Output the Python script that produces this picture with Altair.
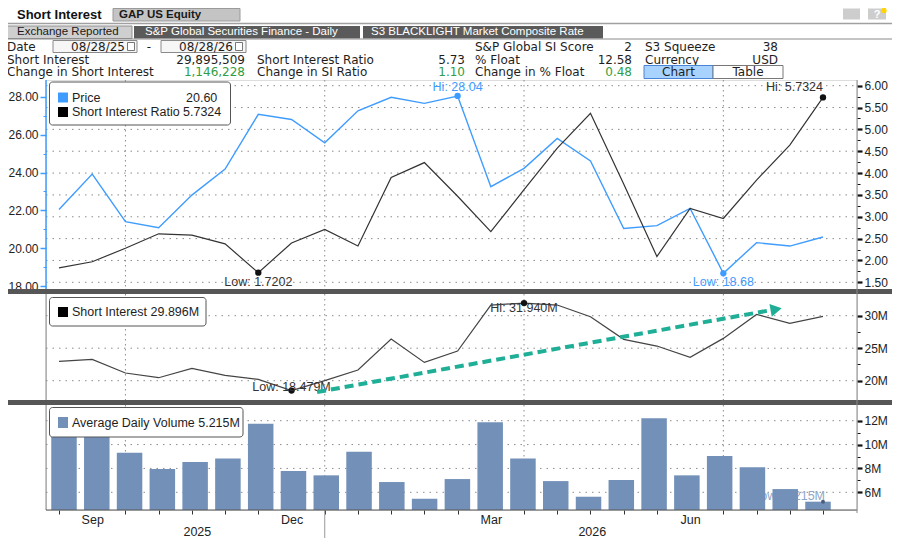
import altair as alt
import pandas as pd

# ---------------- data ----------------
periods = ["2025-08-29", "2025-09-15", "2025-09-30", "2025-10-15", "2025-10-31", "2025-11-14",
           "2025-11-28", "2025-12-15", "2025-12-31", "2026-01-15", "2026-01-30", "2026-02-13",
           "2026-02-27", "2026-03-13", "2026-03-31", "2026-04-15", "2026-04-30", "2026-05-15",
           "2026-05-29", "2026-06-15", "2026-06-30", "2026-07-15", "2026-07-31", "2026-08-14"]
price = [22.05, 23.92, 21.41, 21.09, 22.81, 24.18, 27.07, 26.80, 25.57, 27.26, 27.97, 27.65,
         28.04, 23.25, 24.22, 25.80, 24.61, 21.05, 21.20, 22.11, 18.68, 20.30, 20.12, 20.60]
si_ratio = [1.83, 1.97, 2.28, 2.61, 2.58, 2.38, 1.7202, 2.40, 2.71, 2.33, 3.90, 4.24,
            3.47, 2.66, 3.62, 4.57, 5.37, 3.75, 2.09, 3.19, 2.96, 3.84, 4.64, 5.7324]
short_interest = [22.97, 23.28, 21.18, 20.46, 21.90, 20.82, 20.21, 18.479, 20.00, 21.64, 26.41, 22.82,
                  24.56, 31.64, 31.940, 31.64, 29.85, 26.36, 25.33, 23.59, 26.51, 30.20, 28.82, 29.896]
avg_volume = [12.6, 11.5, 9.32, 7.95, 8.54, 8.84, 11.75, 7.78, 7.42, 9.40, 6.86, 5.46,
              7.11, 11.86, 8.84, 6.94, 5.63, 7.03, 12.20, 7.42, 9.04, 8.09, 6.27, 5.215]
volume_axis_floor = 4.52   # bottom edge of the volume panel, in millions

month_ticks = [1, 7, 13, 19]
month_labels = ["Sep", "Dec", "Mar", "Jun"]
year_ticks = [4.15, 16.04]
year_labels = ["2025", "2026"]
quarter_grid = [2, 8, 14, 20]
year_boundary = [8]
price_ticks = [18, 20, 22, 24, 26, 28]
price_minor = [19, 21, 23, 25, 27]
ratio_ticks = [1.5, 2.0, 2.5, 3.0, 3.5, 4.0, 4.5, 5.0, 5.5, 6.0]
ratio_minor = [1.75, 2.25, 2.75, 3.25, 3.75, 4.25, 4.75, 5.25, 5.75]
si_ticks = [20, 25, 30]
si_minor = [17.5, 22.5, 27.5, 32.5]
vol_ticks = [6, 8, 10, 12]
vol_minor = [5, 7, 9, 11, 13]
arrow_x = [7.77, 21.37]
arrow_y = [18.26, 30.80]
arrow_head_x = [21.59]
arrow_head_y = [30.98]

tabs = ["Exchange Reported", "S&P Global Securities Finance - Daily", "S3 BLACKLIGHT Market Composite Rate"]
date_from, date_to = "08/28/25", "08/28/26"
col1_labels = ["Short Interest", "Change in Short Interest"]
col1_values = ["29,895,509", "1,146,228"]
col2_labels = ["Short Interest Ratio", "Change in SI Ratio"]
col2_values = ["5.73", "1.10"]
col3_labels = ["S&P Global SI Score", "% Float", "Change in % Float"]
col3_values = ["2", "12.58", "0.48"]
col4_labels = ["S3 Squeeze", "Currency"]
col4_values = ["38", "USD"]

# ---------------- styling / layout ----------------
OX, OY = 46, 80          # image position of the plot origin
W, H = 811, 430
FONT = "Liberation Sans"
HFONT = "DejaVu Sans"
BLUE = "#3f9cff"
DARK = "#333333"
BAR = "#7290b8"
TEAL = "#1fae96"
GRID = "#8c8c8c"
GREEN = "#2f9e44"

XS = alt.Scale(domain=[0, 23], range=[13, 777], nice=False, zero=False)
Y_PRICE = alt.Scale(domain=[18, 28], range=[206.25, 16.7], nice=False, zero=False)
Y_RATIO = alt.Scale(domain=[1.5, 6.0], range=[202.3, 5.7], nice=False, zero=False)
Y_SI = alt.Scale(domain=[20, 30], range=[300.7, 235.7], nice=False, zero=False)
Y_VOL = alt.Scale(domain=[6, 12], range=[412.3, 340.7], nice=False, zero=False)

one = pd.DataFrame({"k": [0]})
df = pd.DataFrame({"i": list(range(len(periods))), "period": periods, "price": price,
                   "ratio": si_ratio, "si": short_interest, "vol": avg_volume,
                   "base": [volume_axis_floor] * len(periods)})


def px(x):
    return x - OX


def py(y):
    return y - OY


def X(field="i"):
    return alt.X(f"{field}:Q", scale=XS, axis=None)


def text_at(s, x, y, size=12, color="#1e1e1e", align="left", weight="normal", font=HFONT):
    return alt.Chart(one).mark_text(text=s, align=align, baseline="middle", fontSize=size,
                                    color=color, fontWeight=weight, font=font).encode(
        x=alt.value(px(x)), y=alt.value(py(y)))


def box(x1, y1, x2, y2, fill, stroke=None, sw=1.0, radius=0):
    kw = dict(fill=fill)
    if stroke:
        kw.update(stroke=stroke, strokeWidth=sw)
    if radius:
        kw.update(cornerRadius=radius)
    return alt.Chart(one).mark_rect(**kw).encode(
        x=alt.value(px(x1)), x2=alt.value(px(x2)), y=alt.value(py(y1)), y2=alt.value(py(y2)))


def vline(x, y1, y2, color, w=1.0):
    return alt.Chart(one).mark_rule(color=color, strokeWidth=w).encode(
        x=alt.value(px(x)), y=alt.value(py(y1)), y2=alt.value(py(y2)))


def hline(x1, x2, y, color, w=1.0):
    return alt.Chart(one).mark_rule(color=color, strokeWidth=w).encode(
        x=alt.value(px(x1)), x2=alt.value(px(x2)), y=alt.value(py(y)))


def raxis(vals, fmt=None, expr=None):
    kw = dict(orient="right", values=vals, domain=False, grid=False, tickSize=5, tickWidth=2.2,
              tickColor="#111", labelColor="#222", labelFont=FONT, labelFontSize=12,
              labelPadding=2, title=None)
    if fmt:
        kw["format"] = fmt
    if expr:
        kw["labelExpr"] = expr
    return alt.Axis(**kw)


def hgrid(vals, yscale, axis):
    return alt.Chart(pd.DataFrame({"v": vals})).mark_rule(
        color=GRID, strokeDash=[1.5, 5], strokeWidth=1).encode(
        y=alt.Y("v:Q", scale=yscale, axis=axis), x=alt.value(0), x2=alt.value(W))


def minor(vals, yscale, orient="right", color="#111"):
    return alt.Chart(pd.DataFrame({"v": vals})).mark_rule(strokeOpacity=0).encode(
        y=alt.Y("v:Q", scale=yscale,
                axis=alt.Axis(orient=orient, values=vals, labels=False, domain=False, grid=False,
                              tickSize=3, tickColor=color, title=None)),
        x=alt.value(0), x2=alt.value(1))


def vgrid(y1, y2):
    return alt.Chart(pd.DataFrame({"g": quarter_grid})).mark_rule(
        color=GRID, strokeDash=[1.5, 3.5], strokeWidth=1).encode(
        x=X("g"), y=alt.value(py(y1)), y2=alt.value(py(y2)))


def ann(idx, val, label, yscale, dy, color, align="center", dx=0):
    d = pd.DataFrame({"i": [idx], "v": [val], "t": [label]})
    return alt.Chart(d).mark_text(dy=dy, dx=dx, align=align, baseline="middle", font=FONT,
                                  fontSize=12.5, color=color).encode(
        x=X(), y=alt.Y("v:Q", scale=yscale, axis=None), text="t:N")


def dot(idx, val, yscale, color, size=40):
    d = pd.DataFrame({"i": [idx], "v": [val]})
    return alt.Chart(d).mark_point(filled=True, opacity=1, size=size, color=color).encode(
        x=X(), y=alt.Y("v:Q", scale=yscale, axis=None))


def ternary(vals, labels):
    expr = "''"
    for v, l in reversed(list(zip(vals, labels))):
        expr = f"abs(datum.value - {v}) < 0.001 ? '{l}' : ({expr})"
    return expr


layers = []

# ---------------- header ----------------
layers += [
    text_at("Short Interest", 17, 15, size=13, weight="bold", font=FONT, color="#111"),
    box(113, 8.5, 240, 21, "#c4c4c4", stroke="#9a9a9a"),
    text_at("GAP US Equity", 119, 15, size=11.5, weight="bold", font=FONT, color="#1a1a1a"),
    box(843, 8.5, 860, 19.5, "#cdcdcd"),
    box(868, 8.5, 886, 19.5, "#cdcdcd"),
    text_at("?", 877, 14.5, size=11, weight="bold", font=FONT, color="#ffffff", align="center"),
    alt.Chart(one).mark_point(filled=True, opacity=1, size=28, color="#ffd400").encode(
        x=alt.value(px(884)), y=alt.value(py(10.5))),
    hline(5, 892, 23.5, "#a0a0a0", 1.5),
    box(5, 26, 132, 38.5, "#cfcfcf", stroke="#8f8f8f"),
    text_at(tabs[0], 17, 32.3, size=11.5, font=FONT, color="#1a1a1a"),
    box(134, 26, 360, 38.5, "#5a5a5a"),
    text_at(tabs[1], 145, 32.3, size=11.5, font=FONT, color="#ffffff"),
    box(363, 26, 603, 38.5, "#5a5a5a"),
    text_at(tabs[2], 371, 32.3, size=11.5, font=FONT, color="#ffffff"),
    hline(5, 892, 39, "#8a8a8a", 1),
    text_at("Date", 7, 46.5),
    box(53, 40.5, 137, 52.5, "#f6f6f6", stroke="#8a8a8a"),
    text_at(date_from, 125, 46.5, align="right"),
    box(127.5, 42.5, 134.5, 50.5, "#ffffff", stroke="#555", sw=0.8),
    text_at("-", 149, 46.5, align="center"),
    box(161, 40.5, 246, 52.5, "#f6f6f6", stroke="#8a8a8a"),
    text_at(date_to, 233, 46.5, align="right"),
    box(235.5, 42.5, 242.5, 50.5, "#ffffff", stroke="#555", sw=0.8),
]
row_y = [46.5, 59.5, 72]
for k, (lab, val) in enumerate(zip(col1_labels, col1_values)):
    layers += [text_at(lab, 7, row_y[k + 1]),
               text_at(val, 245, row_y[k + 1], align="right", color="#1e1e1e" if k == 0 else GREEN)]
for k, (lab, val) in enumerate(zip(col2_labels, col2_values)):
    layers += [text_at(lab, 257, row_y[k + 1]),
               text_at(val, 465, row_y[k + 1], align="right", color="#1e1e1e" if k == 0 else GREEN)]
for k, (lab, val) in enumerate(zip(col3_labels, col3_values)):
    layers += [text_at(lab, 475, row_y[k]),
               text_at(val, 632, row_y[k], align="right", color=GREEN if k == 2 else "#1e1e1e")]
for k, (lab, val) in enumerate(zip(col4_labels, col4_values)):
    layers += [text_at(lab, 645, row_y[k]),
               text_at(val, 778, row_y[k], align="right")]
layers += [
    box(644, 65.5, 713, 78.5, "#a8d2ff", stroke="#4a84d6"),
    text_at("Chart", 678.5, 72, align="center"),
    box(713, 65.5, 783, 78.5, "#ffffff", stroke="#777"),
    text_at("Table", 748, 72, align="center"),
]

# ---------------- top panel: price & SI ratio ----------------
layers += [
    hgrid(ratio_ticks, Y_RATIO, raxis(ratio_ticks, fmt=".2f")),
    minor(ratio_minor, Y_RATIO),
    minor(price_minor, Y_PRICE, orient="left", color=BLUE),
    vgrid(80, 289),
    vline(46, 80, 289, BLUE, 1.5),
    alt.Chart(df).mark_line(color=BLUE, strokeWidth=1.4).encode(
        x=X(), y=alt.Y("price:Q", scale=Y_PRICE,
                       axis=alt.Axis(orient="left", values=price_ticks, format=".2f", domain=False,
                                     grid=False, tickColor=BLUE, tickSize=6, tickWidth=1.5,
                                     labelColor="#222", labelFont=FONT, labelFontSize=12,
                                     labelPadding=2, title=None))),
    alt.Chart(df).mark_line(color=DARK, strokeWidth=1.2).encode(
        x=X(), y=alt.Y("ratio:Q", scale=Y_RATIO, axis=None)),
]
p_hi = price.index(max(price))
p_lo = price.index(min(price))
r_hi = si_ratio.index(max(si_ratio))
r_lo = si_ratio.index(min(si_ratio))
layers += [
    dot(p_hi, price[p_hi], Y_PRICE, BLUE),
    dot(p_lo, price[p_lo], Y_PRICE, BLUE),
    dot(r_hi, si_ratio[r_hi], Y_RATIO, "#111"),
    dot(r_lo, si_ratio[r_lo], Y_RATIO, "#111"),
    ann(p_hi, price[p_hi], f"Hi: {price[p_hi]:.2f}", Y_PRICE, -9, BLUE),
    ann(p_lo, price[p_lo], f"Low: {price[p_lo]:.2f}", Y_PRICE, 9, BLUE),
    ann(r_hi, si_ratio[r_hi], f"Hi: {si_ratio[r_hi]:.4f}", Y_RATIO, -10, DARK, align="right"),
    ann(r_lo, si_ratio[r_lo], f"Low: {si_ratio[r_lo]:.4f}", Y_RATIO, 9, DARK),
    box(49.5, 82, 230.5, 125, "#ffffff", stroke="#555", radius=3),
    box(58, 92.5, 68, 102.5, BLUE),
    text_at("Price", 72, 97.5, size=12.5, font=FONT),
    text_at(f"{price[-1]:.2f}", 186, 97.5, size=12.5, font=FONT),
    box(58, 107, 68, 117, "#000000"),
    text_at("Short Interest Ratio", 72, 112, size=12.5, font=FONT),
    text_at(f"{si_ratio[-1]:.4f}", 183, 112, size=12.5, font=FONT),
]

# ---------------- middle panel: short interest ----------------
s_hi = short_interest.index(max(short_interest))
s_lo = short_interest.index(min(short_interest))
layers += [
    box(5, 289, 892, 294, "#565656"),
    hgrid(si_ticks, Y_SI, raxis(si_ticks, expr="datum.value + 'M'")),
    minor(si_minor, Y_SI),
    vgrid(294, 400),
    vline(46, 294, 400, "#8a8a8a", 1),
    alt.Chart(df).mark_line(color="#444444", strokeWidth=1.2).encode(
        x=X(), y=alt.Y("si:Q", scale=Y_SI, axis=None)),
    dot(s_hi, short_interest[s_hi], Y_SI, "#111"),
    dot(s_lo, short_interest[s_lo], Y_SI, "#111"),
    ann(s_hi, short_interest[s_hi], f"Hi: {short_interest[s_hi]:.3f}M", Y_SI, 5, DARK),
    ann(s_lo, short_interest[s_lo], f"Low: {short_interest[s_lo]:.3f}M", Y_SI, -4, DARK),
    alt.Chart(pd.DataFrame({"i": arrow_x, "v": arrow_y})).mark_line(
        color=TEAL, strokeWidth=4, strokeDash=[9, 5], strokeCap="butt").encode(
        x=X(), y=alt.Y("v:Q", scale=Y_SI, axis=None)),
    alt.Chart(pd.DataFrame({"i": arrow_head_x, "v": arrow_head_y})).mark_point(
        shape="triangle-right", filled=True, opacity=1, size=170, angle=349.8, color=TEAL).encode(
        x=X(), y=alt.Y("v:Q", scale=Y_SI, axis=None)),
    box(49.5, 297.5, 206, 326, "#ffffff", stroke="#555", radius=3),
    box(58, 307, 68, 317, "#000000"),
    text_at(f"Short Interest {short_interest[-1]:.3f}M", 72, 312, size=12.5, font=FONT),
]

# ---------------- bottom panel: average daily volume ----------------
v_lo = avg_volume.index(min(avg_volume))
other_ticks = [i for i in range(len(periods)) if i not in month_ticks]
layers += [
    box(5, 400, 892, 405, "#565656"),
    hgrid(vol_ticks, Y_VOL, raxis(vol_ticks, expr="datum.value + 'M'")),
    minor(vol_minor, Y_VOL),
    vgrid(405, 510),
    vline(46, 405, 510, "#8a8a8a", 1),
    ann(v_lo, avg_volume[v_lo], f"Low: {avg_volume[v_lo]:.3f}M", Y_VOL, -6, "#8ea6c9", align="right", dx=2),
    alt.Chart(df).mark_bar(size=25.5, color=BAR).encode(
        x=X(), y=alt.Y("vol:Q", scale=Y_VOL, axis=None), y2="base:Q"),
    dot(v_lo, avg_volume[v_lo], Y_VOL, "#4a5f80", size=16),
    alt.Chart(pd.DataFrame({"i": month_ticks})).mark_point(opacity=0).encode(
        x=alt.X("i:Q", scale=XS,
                axis=alt.Axis(orient="bottom", values=month_ticks, labelExpr=ternary(month_ticks, month_labels),
                              ticks=False, domain=False, grid=False, labelPadding=3, labelFont=FONT,
                              labelFontSize=12.5, labelColor="#222", labelFlush=False, title=None)),
        y=alt.value(py(505))),
    alt.Chart(pd.DataFrame({"i": other_ticks})).mark_point(opacity=0).encode(
        x=alt.X("i:Q", scale=XS,
                axis=alt.Axis(orient="bottom", values=other_ticks, labels=False, domain=False,
                              grid=False, tickSize=4, tickColor="#333", title=None)),
        y=alt.value(py(505))),
    alt.Chart(pd.DataFrame({"i": year_ticks})).mark_point(opacity=0).encode(
        x=alt.X("i:Q", scale=XS,
                axis=alt.Axis(orient="bottom", values=year_ticks, labelExpr=ternary(year_ticks, year_labels),
                              ticks=False, domain=False, grid=False, offset=15, labelPadding=0,
                              labelFont=FONT, labelFontSize=12.5, labelColor="#222",
                              labelFlush=False, title=None)),
        y=alt.value(py(505))),
    alt.Chart(pd.DataFrame({"g": year_boundary})).mark_rule(color="#9a9a9a", strokeWidth=1).encode(
        x=X("g"), y=alt.value(py(510)), y2=alt.value(py(538))),
    hline(46, 857, 510, "#555555", 1),
    vline(857, 80, 513, "#8a8a8a", 1),
    box(49.5, 407.5, 243, 437, "#ffffff", stroke="#555", radius=3),
    box(58, 417, 68, 428, BAR),
    text_at(f"Average Daily Volume {avg_volume[-1]:.3f}M", 72, 422.5, size=12.5, font=FONT),
]

chart = alt.layer(*layers).resolve_scale(x="independent", y="independent").properties(
    width=W, height=H,
    autosize=alt.AutoSizeParams(type="none"),
    padding={"left": 38, "top": 72, "right": 35, "bottom": 28},
    background="white",
).configure_view(stroke=None).configure(font=FONT)

chart.save("out.html", embed_options={"renderer": "svg", "actions": False})
